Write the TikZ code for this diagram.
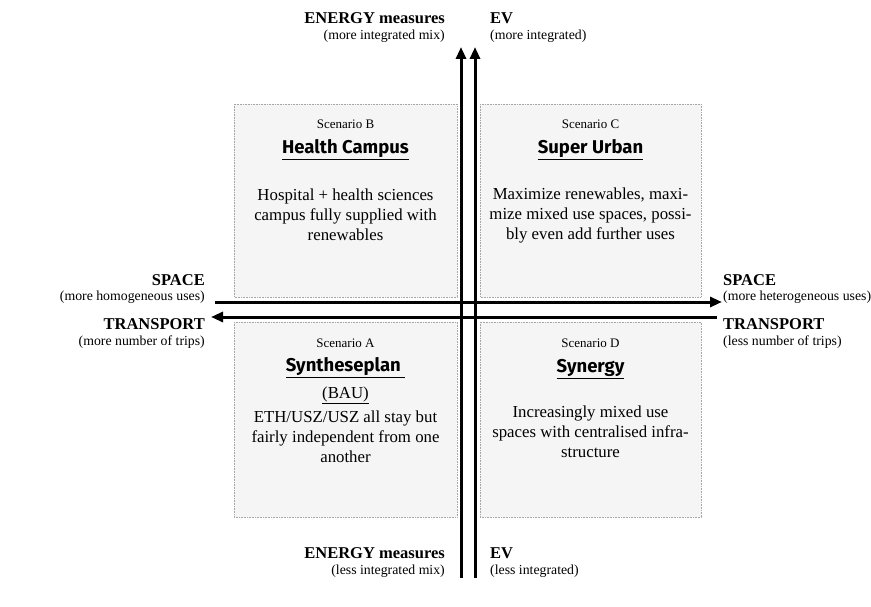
\documentclass[tikz,border=0pt]{standalone}
\usepackage{fontspec}
\setmainfont{Liberation Serif}
\newfontfamily\titlefont{Fira Sans}
\usetikzlibrary{arrows.meta}
\begin{document}
\begin{tikzpicture}[x=1pt,y=-1pt,
  scenbox/.style={draw=gray!70, densely dotted, fill=black!4, line width=0.6pt},
  scenlab/.style={font=\fontsize{13}{15}\selectfont, inner sep=0},
  scentitle/.style={font=\titlefont\bfseries\fontsize{18.5}{20}\selectfont, inner sep=0},
  scenbody/.style={font=\fontsize{16.8}{20}\selectfont, align=center, inner sep=0},
  axlab/.style={font=\bfseries\fontsize{16.5}{18}\selectfont, inner sep=0},
  axsub/.style={font=\fontsize{13.8}{15}\selectfont, inner sep=0},
  axarrow/.style={line width=3pt, -{Triangle[length=12pt,width=10pt]}},
  axline/.style={line width=3pt}]
\useasboundingbox (0,0) rectangle (871,607);
% boxes
\draw[scenbox] (234,104) rectangle (457,297);
\draw[scenbox] (480,104) rectangle (701,297);
\draw[scenbox] (234,322) rectangle (457,517);
\draw[scenbox] (480,322) rectangle (701,517);
% arrows
\coordinate (v1b) at (461,578); \coordinate (v1t) at (461,47);
\coordinate (v2b) at (475,578); \coordinate (v2t) at (475,47);
\coordinate (h1l) at (215,302); \coordinate (h1r) at (722,302);
\coordinate (h2r) at (717,317); \coordinate (h2l) at (211,317);
\draw[axarrow] (v1b) -- (v1t);
\draw[axarrow] (v2b) -- (v2t);
\draw[axarrow] (h1l) -- (h1r);
\draw[axarrow] (h2r) -- (h2l);
% Scenario B
\node[scenlab] (bl) at (345.5,124) {Scenario B};
\node[scentitle] (bt) at (345.5,150) {\underline{Health Campus}};
\node[scenbody] (bb) at (345.5,215) {Hospital + health sciences\\campus fully supplied with\\renewables};
% Scenario C
\node[scenlab] (cl) at (590.5,124) {Scenario C};
\node[scentitle] (ct) at (590.5,150) {\underline{Super Urban}};
\node[scenbody] (cb) at (590.5,215) {Maximize renewables, maxi-\\mize mixed use spaces, possi-\\bly even add further uses};
% Scenario A
\node[scenlab] (al) at (345.5,343) {Scenario A};
\node[scentitle] (at) at (345.5,368) {\underline{Syntheseplan\ }};
\node[scenbody] (ab) at (345.5,395) {\underline{(BAU)}};
\node[scenbody] (ab2) at (345.5,437) {ETH/USZ/USZ all stay but\\fairly independent from one\\another};
% Scenario D
\node[scenlab] (dl) at (590.5,343) {Scenario D};
\node[scentitle] (dt) at (590.5,369) {\underline{Synergy}};
\node[scenbody] (db) at (590.5,432) {Increasingly mixed use\\spaces with centralised infra-\\structure};
% axis labels top
\node[axlab, anchor=east] (et) at (445,18) {ENERGY measures};
\node[axsub, anchor=east] (ets) at (445,36) {(more integrated mix)};
\node[axlab, anchor=west] (evt) at (490,18) {EV};
\node[axsub, anchor=west] (evts) at (490,36) {(more integrated)};
% bottom
\node[axlab, anchor=east] (eb) at (445,553) {ENERGY measures};
\node[axsub, anchor=east] (ebs) at (445,571) {(less integrated mix)};
\node[axlab, anchor=west] (evb) at (490,553) {EV};
\node[axsub, anchor=west] (evbs) at (490,571) {(less integrated)};
% left
\node[axlab, anchor=east] (sl) at (205,280) {SPACE};
\node[axsub, anchor=east] (sls) at (205,297) {(more homogeneous uses)};
\node[axlab, anchor=east] (tl) at (205,324) {TRANSPORT};
\node[axsub, anchor=east] (tls) at (205,342) {(more number of trips)};
% right
\node[axlab, anchor=west] (sr) at (723,280) {SPACE};
\node[axsub, anchor=west] (srs) at (723,297) {(more heterogeneous uses)};
\node[axlab, anchor=west] (tr) at (723,324) {TRANSPORT};
\node[axsub, anchor=west] (trs) at (723,342) {(less number of trips)};
\end{tikzpicture}
\end{document}
